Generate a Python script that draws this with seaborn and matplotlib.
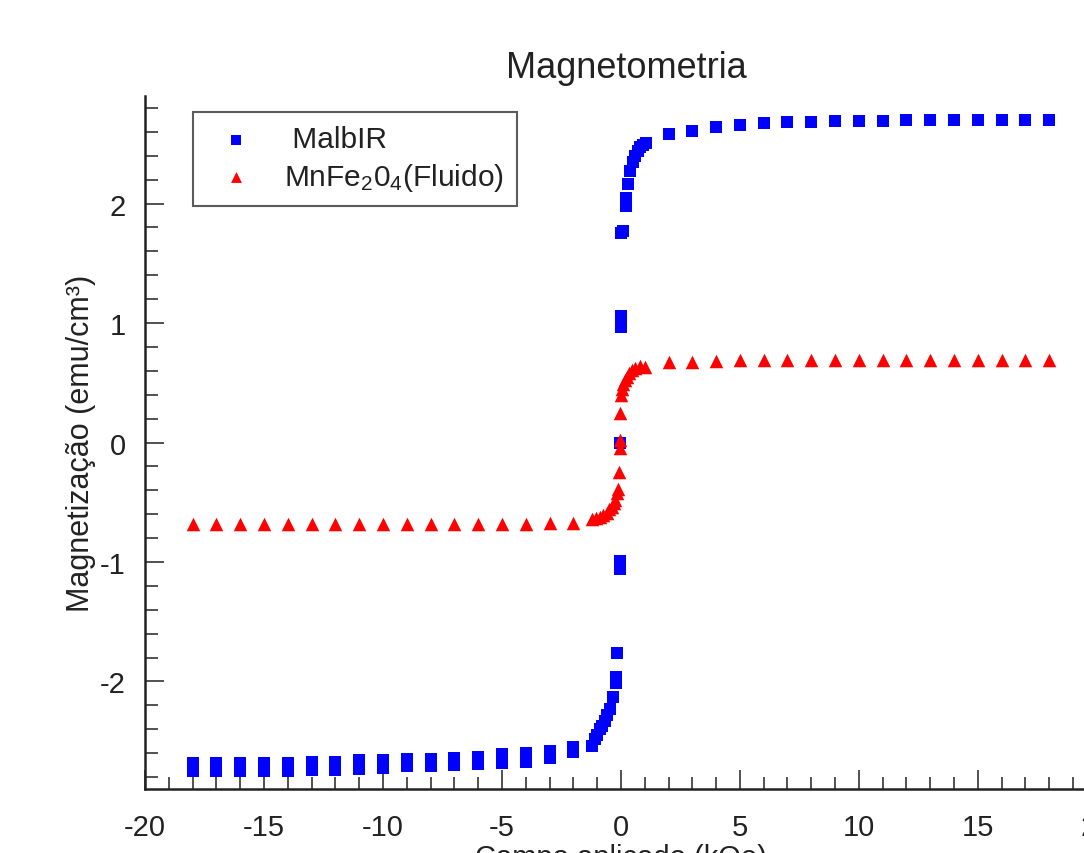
import numpy as np
import pandas as pd
import matplotlib
matplotlib.use("Agg")
import matplotlib.pyplot as plt
import seaborn as sns
from matplotlib.ticker import MultipleLocator

# ---------------- data ----------------
# MalbIR (blue squares)
malb_field = [
    -18, -17, -16, -15, -14, -13, -12, -11, -10, -9, -8, -7, -6, -5, -4, -3, -2,
    -18, -17, -16, -15, -14, -13, -12, -11, -10, -9, -8, -7, -6, -5, -4, -3, -2,
    -1.2, -1.1, -1.0, -0.88, -0.78, -0.67, -0.57, -0.46, -0.33, -0.22, -0.2, -0.15,
    -0.02, -0.02, -0.02, 0.0, 0.0, 0.0,
    0.07, 0.2, 0.22, 0.3, 0.38, 0.5, 0.6, 0.7, 0.8, 0.92, 1.05,
    2, 3, 4, 5, 6, 7, 8, 9, 10, 11, 12, 13, 14, 15, 16, 17, 18,
]
malb_mag = [
    -2.68, -2.68, -2.68, -2.68, -2.68, -2.67, -2.67, -2.66, -2.66, -2.65, -2.65, -2.64, -2.63, -2.61, -2.60, -2.58, -2.55,
    -2.75, -2.75, -2.75, -2.75, -2.75, -2.74, -2.74, -2.73, -2.72, -2.71, -2.71, -2.70, -2.69, -2.68, -2.67, -2.64, -2.59,
    -2.54, -2.48, -2.45, -2.40, -2.37, -2.33, -2.28, -2.23, -2.13, -2.01, -1.96, -1.76,
    -1.06, -0.99, 0.0, 0.97, 1.06, 1.75,
    1.77, 1.98, 2.05, 2.16, 2.27, 2.35, 2.40, 2.44, 2.47, 2.49, 2.51,
    2.58, 2.61, 2.64, 2.66, 2.67, 2.68, 2.68, 2.69, 2.69, 2.69, 2.70, 2.70, 2.70, 2.70, 2.70, 2.70, 2.70,
]

# MnFe2O4 fluid (red triangles)
fluid_field = [
    -18, -17, -16, -15, -14, -13, -12, -11, -10, -9, -8, -7, -6, -5, -4, -3, -2,
    -1.2, -1.05, -0.9, -0.75, -0.6, -0.48, -0.38, -0.3, -0.25, -0.17, -0.12, -0.08,
    -0.05, -0.05, -0.05, 0.0, 0.05, 0.1, 0.18, 0.25, 0.35, 0.46, 0.6, 0.8, 1.0,
    2, 3, 4, 5, 6, 7, 8, 9, 10, 11, 12, 13, 14, 15, 16, 17, 18,
]
fluid_mag = [
    -0.686, -0.686, -0.686, -0.686, -0.686, -0.686, -0.686, -0.686, -0.686, -0.686, -0.686, -0.686, -0.686, -0.686, -0.686, -0.67, -0.67,
    -0.64, -0.63, -0.62, -0.61, -0.59, -0.56, -0.54, -0.51, -0.48, -0.42, -0.39, -0.25,
    -0.05, 0.02, 0.25, 0.40, 0.45, 0.49, 0.52, 0.55, 0.58, 0.61, 0.62, 0.64, 0.63,
    0.67, 0.67, 0.68, 0.69, 0.69, 0.69, 0.69, 0.69, 0.69, 0.69, 0.69, 0.69, 0.69, 0.69, 0.69, 0.69, 0.69,
]

title = "Magnetometria"
xlabel = "Campo aplicado (kOe)"
ylabel = "Magnetização (emu/cm³)"
label_malb = " MalbIR"
label_fluid = r"MnFe$_2$0$_4$(Fluido)"

# ---------------- style ----------------
sns.set_theme(style="ticks")
plt.rcParams["font.family"] = ["Liberation Sans", "DejaVu Sans"]
plt.rcParams["mathtext.fontset"] = "custom"
plt.rcParams["mathtext.rm"] = "Liberation Sans"
plt.rcParams["mathtext.it"] = "Liberation Sans"
plt.rcParams["mathtext.default"] = "regular"
plt.rcParams["axes.unicode_minus"] = False

df_malb = pd.DataFrame({"H": malb_field, "M": malb_mag})
df_fluid = pd.DataFrame({"H": fluid_field, "M": fluid_mag})

fig = plt.figure(figsize=(10.84, 8.54), dpi=100)
ax = fig.add_axes([0.1338, 0.0749, 0.878, 0.8115])

sns.scatterplot(data=df_malb, x="H", y="M", ax=ax, marker="s", color="#0000FF",
                s=66, linewidth=0, label=label_malb, zorder=3)
sns.scatterplot(data=df_fluid, x="H", y="M", ax=ax, marker="^", color="#FF0000",
                s=95, linewidth=0, label=label_fluid, zorder=4)

ax.set_xlim(-20, 20)
ax.set_ylim(-2.9, 2.9)
ax.xaxis.set_major_locator(MultipleLocator(5))
ax.xaxis.set_minor_locator(MultipleLocator(1))
ax.yaxis.set_major_locator(MultipleLocator(1))
ax.yaxis.set_minor_locator(MultipleLocator(0.2))

for s in ["top", "right"]:
    ax.spines[s].set_visible(False)
for s in ["left", "bottom"]:
    ax.spines[s].set_color("#222222")
    ax.spines[s].set_linewidth(1.8)

ax.tick_params(axis="both", which="both", bottom=True, left=True, top=False, right=False)
ax.tick_params(axis="both", which="major", direction="in", length=14, width=1.1,
               color="#222222", labelsize=21, labelcolor="#222222")
ax.tick_params(axis="both", which="minor", direction="in", length=9, width=1.1,
               color="#222222")
ax.tick_params(axis="x", which="major", pad=17)
ax.tick_params(axis="y", which="major", pad=14)

ax.set_title(title, fontsize=26, color="#222222", pad=14, x=0.506)
ax.set_xlabel(xlabel, fontsize=21, color="#222222", labelpad=2)
ax.set_ylabel(ylabel, fontsize=22, color="#222222", labelpad=3)

leg = ax.legend(loc="upper left", bbox_to_anchor=(0.05, 0.977), borderaxespad=0,
                fontsize=21.5, frameon=True, fancybox=False, handletextpad=0.6,
                handlelength=2.0, borderpad=0.45, labelspacing=0.25, markerscale=0.8)
leg.get_frame().set_edgecolor("#333333")
leg.get_frame().set_linewidth(1.5)
for t in leg.get_texts():
    t.set_color("#222222")

fig.savefig("out.png", dpi=100)
